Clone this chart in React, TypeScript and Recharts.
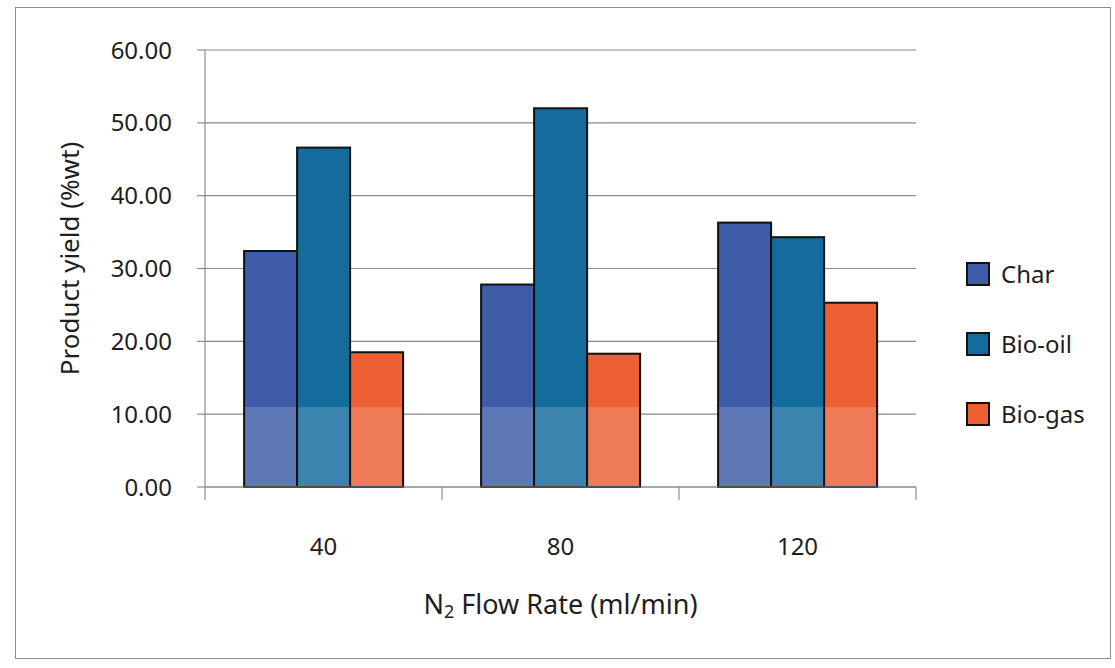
import React from 'react';
import { BarChart, Bar, XAxis, YAxis, CartesianGrid, Legend, Label } from 'recharts';

const categories = ['40', '80', '120'];
const charValues = [32.4, 27.8, 36.3];
const bioOilValues = [46.6, 52.0, 34.3];
const bioGasValues = [18.5, 18.3, 25.3];
const yTicks = [0, 10, 20, 30, 40, 50, 60];
const seriesKeys = ['char', 'bioOil', 'bioGas'];
const seriesNames = ['Char', 'Bio-oil', 'Bio-gas'];
const seriesColors = ['#3e5ca7', '#146c9d', '#ec6034'];
const fadeLevel = 11; // scan artefact: lighter band under this value

const data = categories.map((c, i) => ({
  rate: c,
  char: charValues[i],
  bioOil: bioOilValues[i],
  bioGas: bioGasValues[i],
}));

const FONT = '"Noto Sans", sans-serif';
const TEXT = '#1e1e1e';
const GRID = '#8a8a94';

const XTick = (props: any) => {
  const { x, y, payload, index, visibleTicksCount } = props;
  const off = payload && typeof payload.offset === 'number' ? payload.offset : 118;
  const last = (visibleTicksCount ?? categories.length) - 1;
  return (
    <g>
      <line x1={x - off} y1={y} x2={x - off} y2={y + 13} stroke={GRID} strokeWidth={1.2} />
      {index === last && (
        <line x1={x + off} y1={y} x2={x + off} y2={y + 13} stroke={GRID} strokeWidth={1.2} />
      )}
      <text x={x} y={y + 58} textAnchor="middle" dominantBaseline="central" fontSize={24} fontFamily={FONT} fill={TEXT}>
        {payload.value}
      </text>
    </g>
  );
};

const BarShape = (props: any) => {
  const { x, y, width, height, fill, value } = props;
  const v = Array.isArray(value) ? value[1] - value[0] : value;
  if (!height || !v) return null;
  const fadeY = y + height * (1 - Math.min(1, fadeLevel / v));
  return (
    <g>
      <rect x={x} y={y} width={width} height={height} fill={fill} />
      <rect x={x} y={fadeY} width={width} height={y + height - fadeY} fill="#ffffff" fillOpacity={0.17} />
      <rect x={x} y={y} width={width} height={height} fill="none" stroke="#111" strokeWidth={2} />
    </g>
  );
};

const renderLegend = (props: any) => {
  const payload = [...(props.payload || [])].sort(
    (a: any, b: any) => seriesNames.indexOf(a.value) - seriesNames.indexOf(b.value)
  );
  return (
    <div style={{ fontFamily: FONT }}>
      {payload.map((p: any, i: number) => (
        <div key={i} style={{ display: 'flex', alignItems: 'center', height: 24, marginBottom: 46 }}>
          <div
            style={{
              width: 24,
              height: 24,
              boxSizing: 'border-box',
              border: '2px solid #111',
              background: p.color,
            }}
          />
          <span style={{ marginLeft: 11, fontSize: 24, lineHeight: '24px', color: TEXT }}>{p.value}</span>
        </div>
      ))}
    </div>
  );
};

export default function App() {
  return (
    <div style={{ position: 'absolute', left: 0, top: 0, width: 1115, height: 668, background: '#fff' }}>
      <div
        style={{
          position: 'absolute',
          left: 15,
          top: 7,
          width: 1096,
          height: 652,
          border: '1.5px solid #8a8a94',
          boxSizing: 'border-box',
        }}
      />
      <BarChart
        width={1115}
        height={668}
        data={data}
        margin={{ top: 50, right: 59, left: 55, bottom: 121 }}
        barCategoryGap="16.5%"
        barGap={0}
      >
        <CartesianGrid vertical={false} stroke={GRID} strokeWidth={1.2} />
        <XAxis
          dataKey="rate"
          height={60}
          tickSize={0}
          tickMargin={0}
          tickLine={false}
          axisLine={{ stroke: GRID, strokeWidth: 1.2 }}
          tick={<XTick />}
          interval={0}
        >
          <Label
            content={(p: any) => {
              const vb = p.viewBox || {};
              const cx = vb.x + vb.width / 2;
              const cy = vb.y + 116;
              return (
                <text x={cx} y={cy} textAnchor="middle" dominantBaseline="central" fontSize={27} fontFamily={FONT} fill={TEXT}>
                  <tspan>N</tspan>
                  <tspan dy={8} fontSize={18}>2</tspan>
                  <tspan dy={-8}> Flow Rate (ml/min)</tspan>
                </text>
              );
            }}
          />
        </XAxis>
        <YAxis
          width={150}
          domain={[0, 60]}
          ticks={yTicks}
          interval={0}
          tickSize={8}
          tickMargin={25}
          tickFormatter={(v: number) => v.toFixed(2)}
          tick={{ fontSize: 24, fontFamily: FONT, fill: TEXT }}
          tickLine={{ stroke: GRID, strokeWidth: 1.2 }}
          axisLine={{ stroke: GRID, strokeWidth: 1.2 }}
        >
          <Label
            content={(p: any) => {
              const vb = p.viewBox || {};
              const cx = vb.x + 14;
              const cy = vb.y + vb.height / 2 - 10;
              return (
                <text
                  x={cx}
                  y={cy}
                  transform={`rotate(-90, ${cx}, ${cy})`}
                  textAnchor="middle"
                  dominantBaseline="central"
                  fontSize={26}
                  fontFamily={FONT}
                  fill={TEXT}
                >
                  Product yield (%wt)
                </text>
              );
            }}
          />
        </YAxis>
        <Legend
          layout="horizontal"
          verticalAlign="middle"
          align="right"
          content={renderLegend}
          wrapperStyle={{ position: 'absolute', left: 966, top: 262, width: 140 }}
        />
        {seriesKeys.map((k, i) => (
          <Bar
            key={k}
            dataKey={k}
            name={seriesNames[i]}
            fill={seriesColors[i]}
            shape={<BarShape />}
            isAnimationActive={false}
          />
        ))}
      </BarChart>
    </div>
  );
}
